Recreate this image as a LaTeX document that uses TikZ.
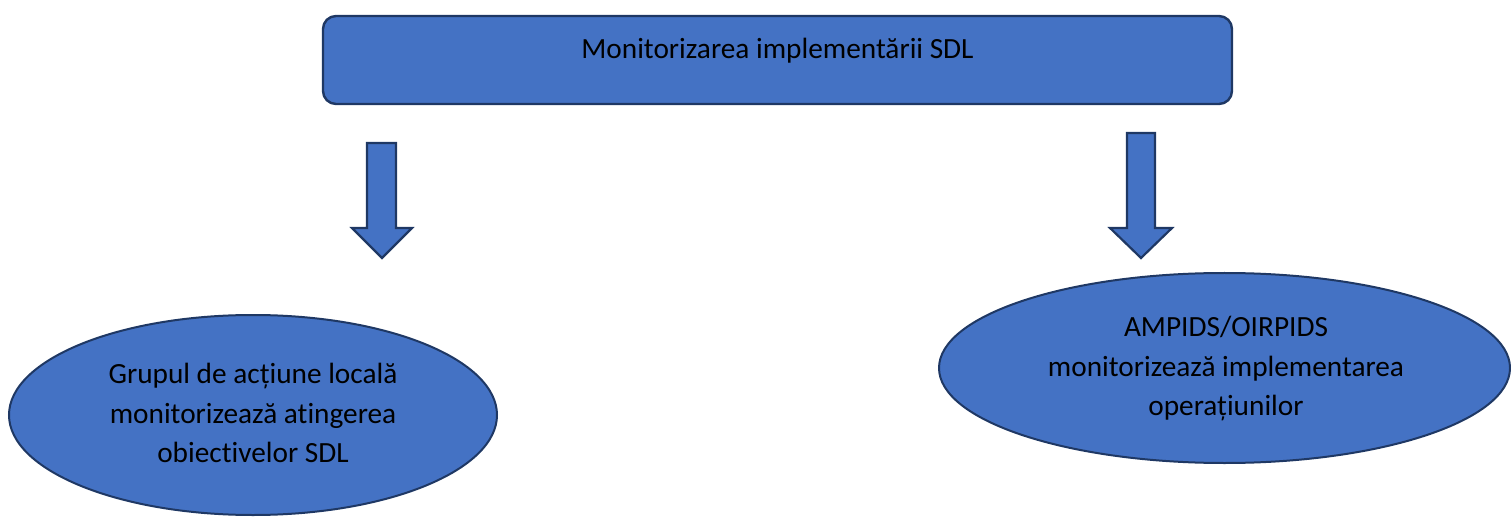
\documentclass[tikz,border=0pt]{standalone}
\usepackage{fontspec}
\setmainfont{Carlito}[RawFeature=-liga]
\usetikzlibrary{shapes.geometric}
\definecolor{boxfill}{HTML}{4472C4}
\definecolor{boxline}{HTML}{1F3864}
\tikzset{
  base/.style={fill=boxfill, draw=boxline, line width=2pt},
  topbox/.style={base, rounded corners=13pt, line width=2.4pt},
  oval/.style={base, ellipse, inner sep=0pt},
  label/.style={font=\fontsize{29.3}{39.5}\selectfont, align=center, text=black, inner sep=0pt},
  blockarrow/.style={base, line width=2.2pt, line join=miter}
}
\begin{document}
\begin{tikzpicture}[x=1pt,y=-1pt]
\useasboundingbox (0,0) rectangle (1511,518);
% top box
\draw[topbox] (323,16) rectangle (1232,104);
\node[label] (top) at (777.5,51) {Monitorizarea implementării SDL};
% left arrow
\draw[blockarrow] (367,143) -- (396,143) -- (396,228) -- (412,228) -- (382,258) -- (352,228) -- (367,228) -- cycle;
% right arrow
\draw[blockarrow] (1127,133) -- (1155,133) -- (1155,228) -- (1172,228) -- (1141,258) -- (1110,228) -- (1127,228) -- cycle;
% left ellipse
\node[oval, minimum width=488pt, minimum height=200pt] (left) at (253,415) {};
\node[label] (lefttext) at (253,413) {Grupul de acțiune locală\\monitorizează atingerea\\obiectivelor SDL};
% right ellipse
\node[oval, minimum width=571pt, minimum height=190pt] (right) at (1224.5,368) {};
\node[label] (righttext) at (1226,369) {AMPIDS/OIRPIDS\\monitorizează implementarea\\operațiunilor};
\end{tikzpicture}
\end{document}
